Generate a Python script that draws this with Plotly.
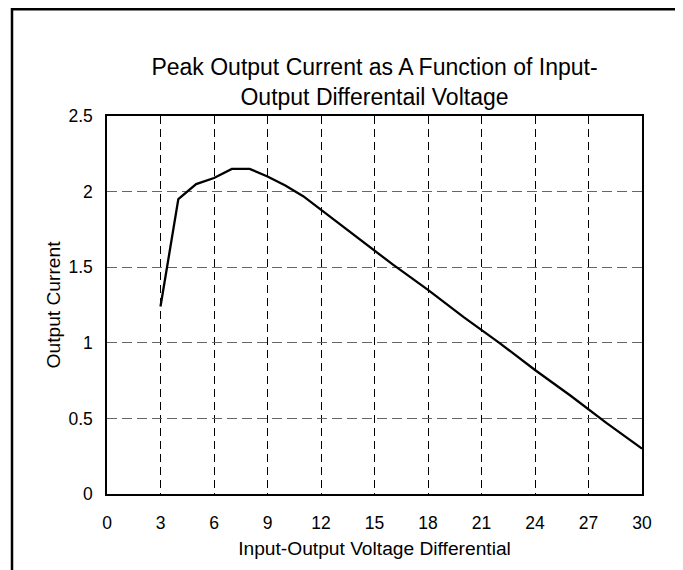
import plotly.graph_objects as go

voltage = [3, 4, 5, 6, 7, 8, 9, 10, 11, 12, 14, 16, 18, 20, 22, 24, 26, 28, 30]
current = [1.24, 1.95, 2.05, 2.09, 2.15, 2.15, 2.10, 2.04, 1.97, 1.88, 1.70, 1.52, 1.35, 1.17, 1.00, 0.82, 0.65, 0.47, 0.30]

x_ticks = [0, 3, 6, 9, 12, 15, 18, 21, 24, 27, 30]
y_ticks = [0, 0.5, 1, 1.5, 2, 2.5]
y_tick_text = ["0", "0.5", "1", "1.5", "2", "2.5"]

title_text = "Peak Output Current as A Function of Input-<br>Output Differentail Voltage"
x_title = "Input-Output Voltage Differential"
y_title = "Output Current"

W, H = 683, 570
L, R, T, B = 99, 49, 108, 84

fig = go.Figure()
fig.add_trace(go.Scatter(x=voltage, y=current, mode="lines",
                         line=dict(color="black", width=2.3), showlegend=False,
                         cliponaxis=True))

font = "Liberation Sans, Arial, sans-serif"

fig.update_layout(
    width=W, height=H,
    margin=dict(l=L, r=R, t=T, b=B),
    paper_bgcolor="white", plot_bgcolor="white",
    font=dict(family=font, color="black", size=17.5),
    title=dict(text=title_text, x=(L + (W - L - R) / 2) / W, xanchor="center",
               y=1 - 67 / H, yanchor="middle", yref="container",
               font=dict(size=23, family=font, color="black")),
    xaxis=dict(range=[0, 30], tickvals=x_ticks, showgrid=True,
               gridcolor="black", gridwidth=1, griddash="8px,5px",
               showline=True, linecolor="black", linewidth=1.5, mirror=True,
               zeroline=False, ticks="", ticklabelstandoff=12,
               title=dict(text=x_title, font=dict(size=19.2), standoff=10)),
    yaxis=dict(range=[0, 2.5], tickvals=y_ticks, ticktext=y_tick_text, showgrid=True,
               gridcolor="#666666", gridwidth=1, griddash="10px,5px",
               showline=True, linecolor="black", linewidth=1.5, mirror=True,
               zeroline=False, ticks="", ticklabelstandoff=9,
               title=dict(text=y_title, font=dict(size=19.2), standoff=3)),
)

pw = W - L - R
ph = H - T - B
def px_x(p):
    return (p - L) / pw
def px_y(p):
    return (H - B - p) / ph

fig.add_shape(type="rect", xref="paper", yref="paper",
              x0=px_x(4), x1=px_x(669), y0=px_y(590), y1=px_y(1.3),
              line=dict(color="black", width=2.5), fillcolor="rgba(0,0,0,0)", layer="above")

fig.write_html("out.html")
